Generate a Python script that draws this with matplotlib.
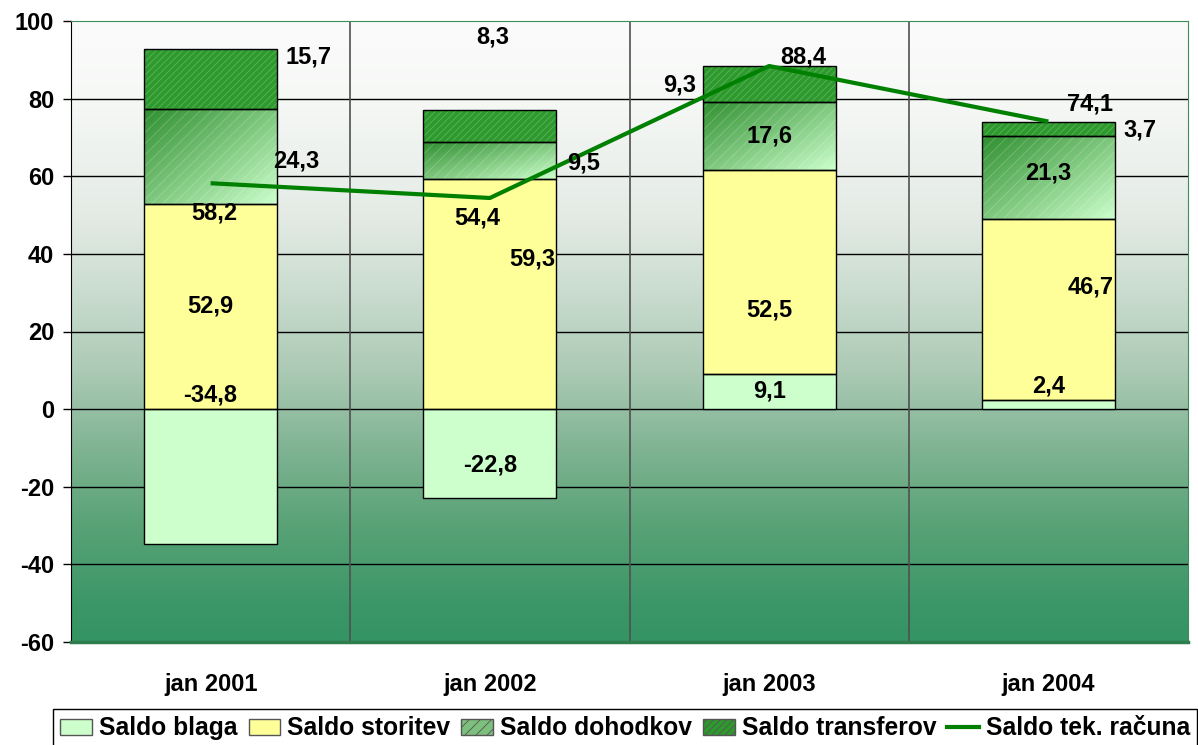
import numpy as np
import matplotlib
matplotlib.use('Agg')
import matplotlib.pyplot as plt
from matplotlib.colors import to_rgb
from matplotlib.patches import Patch
from matplotlib.lines import Line2D

plt.rc('font', family=['Liberation Sans', 'DejaVu Sans'], weight='bold', size=17)
plt.rc('hatch', linewidth=0.6)
plt.rc('axes', unicode_minus=False)

# data
categories = ['jan 2001', 'jan 2002', 'jan 2003', 'jan 2004']
saldo_blaga = [-34.8, -22.8, 9.1, 2.4]
saldo_storitev = [52.9, 59.3, 52.5, 46.7]
saldo_dohodkov = [24.3, 9.5, 17.6, 21.3]
saldo_transferov = [15.7, 8.3, 9.3, 3.7]
saldo_tek_racuna = [58.2, 54.4, 88.4, 74.1]

series_names = ['Saldo blaga', 'Saldo storitev', 'Saldo dohodkov', 'Saldo transferov']
line_name = 'Saldo tek. računa'

# label nudges in pixels from segment centre (dx, dy), per series / category
label_nudge = {
    'Saldo blaga': [(0, 82), (0, -12), (0, 0), (0, 18)],
    'Saldo storitev': [(0, 0), (42, 35), (0, -38), (42, 22)],
    'Saldo dohodkov': [(86, -4), (94, -2), (0, 0), (0, 4)],
    'Saldo transferov': [(98, 22), (3, 89), (-90, -1), (92, -1)],
    line_name: [(4, -30), (-13, -20), (34, 9), (42, 18)],
}


def fmt(v):
    return ('%.1f' % v).replace('.', ',')


def background(ax):
    stops = [(100, (251, 251, 251)), (80, (246, 248, 246)), (50, (228, 235, 229)),
             (30, (202, 220, 207)), (10, (172, 202, 181)), (-10, (128, 180, 147)),
             (-30, (88, 162, 118)), (-50, (60, 151, 104)), (-60, (52, 148, 99))]
    vals = np.linspace(100, -60, 400)
    sv = np.array([s[0] for s in stops])[::-1]
    cols = np.array([s[1] for s in stops], dtype=float)[::-1] / 255.0
    img = np.zeros((len(vals), 1, 3))
    for k in range(3):
        img[:, 0, k] = np.interp(vals, sv, cols[:, k])
    ax.imshow(img, extent=(-0.5, 3.5, -60, 100), aspect='auto', zorder=0,
              interpolation='bilinear')


def gradient_fill(ax, bar, c_dark, c_light):
    x0, y0 = bar.get_x(), bar.get_y()
    w, h = bar.get_width(), bar.get_height()
    u, v = np.meshgrid(np.linspace(0, 1, 60), np.linspace(1, 0, 60))
    t = np.clip((u + (1 - v)) / 2.0, 0, 1)[..., None]
    d = np.array(to_rgb(c_dark))
    l = np.array(to_rgb(c_light))
    img = d * (1 - t) + l * t
    im = ax.imshow(img, extent=(x0, x0 + w, y0, y0 + h), aspect='auto', zorder=2,
                   interpolation='bilinear')
    im.set_clip_path(bar)


fig = plt.figure(figsize=(11.98, 7.45), dpi=100)
ax = fig.add_axes([71 / 1198, 1 - 642 / 745, (1188 - 71) / 1198, (642 - 21) / 745])
background(ax)

x = np.arange(len(categories))
width = 0.477
series = [saldo_blaga, saldo_storitev, saldo_dohodkov, saldo_transferov]
face = ['#CCFFCC', '#FFFF99', 'none', '#2E9A2E']

pos_base = np.zeros(len(x))
neg_base = np.zeros(len(x))
segments = {}
for name, vals, fc in zip(series_names, series, face):
    vals = np.array(vals)
    bottoms = np.where(vals >= 0, pos_base, neg_base)
    bars = ax.bar(x, vals, width, bottom=bottoms, color=fc,
                  edgecolor='none', linewidth=0, zorder=2)
    if name == 'Saldo dohodkov':
        for b in bars:
            gradient_fill(ax, b, '#2F8F2F', '#CCFFCC')
        ax.bar(x, vals, width, bottom=bottoms, color='none',
               edgecolor=(1, 1, 1, 0.22), hatch='///', linewidth=0, zorder=3)
    if name == 'Saldo transferov':
        ax.bar(x, vals, width, bottom=bottoms, color='none',
               edgecolor=(0.75, 0.92, 0.75, 0.3), hatch='/////', linewidth=0, zorder=3)
    ax.bar(x, vals, width, bottom=bottoms, color='none', edgecolor='black',
           linewidth=1.0, zorder=4)
    segments[name] = bottoms + vals / 2.0
    pos_base = np.where(vals >= 0, pos_base + vals, pos_base)
    neg_base = np.where(vals < 0, neg_base + vals, neg_base)

ax.plot(x, saldo_tek_racuna, color='#008000', linewidth=3, zorder=5,
        solid_capstyle='butt')

# data labels
for name, vals in zip(series_names, series):
    for i in range(len(x)):
        dx, dy = label_nudge[name][i]
        ax.annotate(fmt(vals[i]), (x[i], segments[name][i]), xytext=(dx, dy),
                    textcoords='offset pixels', ha='center', va='center',
                    fontweight='bold', zorder=6)
for i in range(len(x)):
    dx, dy = label_nudge[line_name][i]
    ax.annotate(fmt(saldo_tek_racuna[i]), (x[i], saldo_tek_racuna[i]), xytext=(dx, dy),
                textcoords='offset pixels', ha='center', va='center',
                fontweight='bold', zorder=6)

# axes
ax.set_xlim(-0.5, 3.5)
ax.set_ylim(-60, 100)
ax.set_yticks(np.arange(-60, 101, 20))
for yv in np.arange(-40, 100, 20):
    ax.axhline(yv, color='black', linewidth=1.0, zorder=1)
for xv in [0.5, 1.5, 2.5]:
    ax.axvline(xv, color='#505050', linewidth=1.2, zorder=1)
ax.set_xticks(x)
ax.set_xticklabels(categories)
ax.tick_params(axis='x', length=0, pad=22)
ax.tick_params(axis='y', length=6, width=1, pad=6, direction='out')
ax.spines['left'].set_color('black')
ax.spines['top'].set_color('#3C8C5C')
ax.spines['right'].set_color('#3C8C5C')
ax.spines['bottom'].set_color('#2E7D4F')
ax.spines['bottom'].set_linewidth(2.5)
for s in ax.spines.values():
    s.set_zorder(7)

handles = [Patch(facecolor='#CCFFCC', edgecolor='#555555'),
           Patch(facecolor='#FFFF99', edgecolor='#555555'),
           Patch(facecolor='#7DBF7D', edgecolor='#555555', hatch='///'),
           Patch(facecolor='#2E9A2E', edgecolor='#555555', hatch='/////'),
           Line2D([0], [0], color='#008000', linewidth=3)]
labels = series_names + [line_name]
leg = fig.legend(handles, labels, loc='upper left', ncol=5,
                 bbox_to_anchor=(53 / 1198, 1 - 709 / 745), borderaxespad=0,
                 frameon=True, fancybox=False, edgecolor='black', framealpha=1,
                 handlelength=1.3, handleheight=0.62, handletextpad=0.27,
                 columnspacing=0.45, borderpad=0.3, prop={'weight': 'bold', 'size': 17.7})
leg.get_frame().set_linewidth(1.0)

fig.savefig('out.png', dpi=100)
